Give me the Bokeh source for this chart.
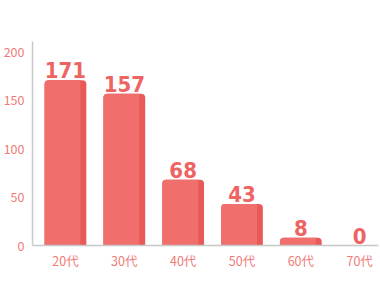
from bokeh.plotting import figure
from bokeh.models import ColumnDataSource, Range1d, SingleIntervalTicker, FixedTicker
from bokeh.core.properties import value
from bokeh.embed import file_html
from bokeh.resources import INLINE

categories = ["20代", "30代", "40代", "50代", "60代", "70代"]
counts = [171, 157, 68, 43, 8, 0]
labels = [str(c) for c in counts]

xs = [i + 0.5 for i in range(len(categories))]
src = ColumnDataSource(dict(x=xs, xd=[x - 0.05 for x in xs], cnt=counts, lab=labels))

p = figure(width=380, height=290, x_range=Range1d(-0.06, 5.82),
           y_range=Range1d(0, 211), output_backend="svg", toolbar_location=None,
           min_border_left=31, min_border_right=2, min_border_top=41, min_border_bottom=45)
p.outline_line_color = None
p.background_fill_color = "white"
p.grid.visible = False

dark = "#E85A58"
light = "#F06E6C"
p.vbar(x="x", top="cnt", width=0.71, source=src, fill_color=dark, line_color=None,
       border_radius=(4, 4, 0, 0))
p.vbar(x="xd", top="cnt", width=0.61, source=src,
       fill_color=light, line_color=None, border_radius=(4, 0, 0, 0))

p.text(x="x", y="cnt", text="lab", source=src, text_align="center", text_baseline="bottom",
       y_offset=-2, text_font=value("DejaVu Sans Condensed"), text_font_style="bold",
       text_font_size="22px", text_color="#EE6462")

p.yaxis.ticker = SingleIntervalTicker(interval=50)
p.xaxis.ticker = FixedTicker(ticks=xs)
p.xaxis.major_label_overrides = {x: c for x, c in zip(xs, categories)}
for ax in (p.xaxis[0], p.yaxis[0]):
    ax.axis_line_color = "#C8C8C8"
    ax.axis_line_width = 1.5
    ax.major_tick_line_color = None
    ax.major_tick_out = 0
    ax.major_tick_in = 0
    ax.minor_tick_line_color = None
    ax.minor_tick_out = 0
    ax.major_label_text_color = "#F07A78"
    ax.major_label_text_font = "Noto Sans CJK JP"
    ax.major_label_text_font_size = "12.5px"
p.xaxis.major_label_standoff = 5
p.yaxis.major_label_standoff = 8

open("out.html", "w").write(file_html(p, INLINE))
